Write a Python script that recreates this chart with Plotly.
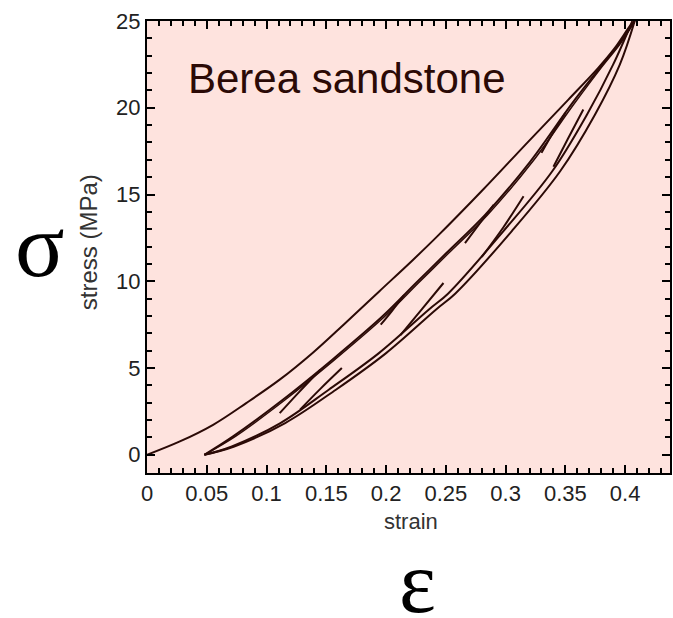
import plotly.graph_objects as go

# ---- data ----
load_strain = [0, 0.0275, 0.0553, 0.083, 0.111, 0.139, 0.166, 0.194, 0.222, 0.243, 0.280, 0.319, 0.3525, 0.3775, 0.3914, 0.405, 0.408]
load_stress = [0, 0.77, 1.73, 2.98, 4.33, 5.9, 7.6, 9.4, 11.2, 12.6, 15.2, 18.05, 20.47, 22.3, 23.45, 24.8, 25]

reload_strain = [0.048, 0.072, 0.1136, 0.155, 0.197, 0.225, 0.250, 0.283, 0.3206, 0.355, 0.380, 0.395, 0.408]
reload_stress = [0, 1.06, 3.17, 5.48, 7.98, 9.9, 11.6, 13.84, 16.9, 20.2, 22.4, 23.7, 25]
reload2_strain = [0.048, 0.074, 0.1156, 0.157, 0.199, 0.227, 0.252, 0.285, 0.3226, 0.357, 0.381, 0.396, 0.408]

unload_stress = [25, 22.5, 19.6, 16.34, 12.88, 9.3, 8.36, 5.86, 3.75, 1.83, 0.48, 0]
unload1_strain = [0.408, 0.3956, 0.3747, 0.3456, 0.305, 0.258, 0.2416, 0.200, 0.158, 0.1156, 0.073, 0.048]
unload2_strain = [0.406, 0.390, 0.368, 0.339, 0.298, 0.252, 0.2356, 0.194, 0.152, 0.1116, 0.071, 0.048]

# short reload branches ending at peaks 5, 10, 15, 20 MPa
seg_strain = [[0.128, 0.145, 0.163], [0.212, 0.230, 0.248], [0.280, 0.298, 0.315], [0.340, 0.352, 0.365]]
seg_stress = [[2.6, 3.8, 5.0], [6.9, 8.4, 9.9], [11.4, 13.1, 14.9], [16.6, 18.2, 19.9]]

# short unload stubs merging into the reload band
stub_strain = [[0.111, 0.127, 0.145], [0.1955, 0.205, 0.215], [0.266, 0.278, 0.290], [0.330, 0.340, 0.350]]
stub_stress = [[2.4, 3.6, 4.9], [7.5, 8.3, 9.2], [12.2, 13.3, 14.4], [17.4, 18.6, 19.7]]

x_tickvals = [0, 0.05, 0.1, 0.15, 0.2, 0.25, 0.3, 0.35, 0.4]
x_ticktext = ["0", "0.05", "0.1", "0.15", "0.2", "0.25", "0.3", "0.35", "0.4"]
y_tickvals = [0, 5, 10, 15, 20, 25]
y_ticktext = ["0", "5", "10", "15", "20", "25"]

LINE = "#2b0a06"
fig = go.Figure()

def add(xs, ys, w=2):
    fig.add_trace(go.Scatter(x=xs, y=ys, mode="lines", line=dict(color=LINE, width=w, shape="spline", smoothing=1.0),
                             showlegend=False, hoverinfo="skip"))

add(load_strain, load_stress)
add(reload_strain, reload_stress)
add(reload2_strain, reload_stress, 1.5)
add(unload1_strain, unload_stress)
add(unload2_strain, unload_stress)
for xs, ys in zip(seg_strain, seg_stress):
    add(xs, ys)
for xs, ys in zip(stub_strain, stub_stress):
    add(xs, ys)

tickfont = dict(family="Liberation Sans, Arial, sans-serif", size=22, color="#222222")
fig.update_xaxes(range=[0, 0.4375], tickmode="array", tickvals=x_tickvals, ticktext=x_ticktext,
                 ticks="inside", ticklen=8, tickwidth=2, tickcolor="black",
                 showline=True, linecolor="black", linewidth=2, mirror="ticks",
                 showgrid=False, zeroline=False, tickfont=tickfont,
                 minor=dict(tickmode="linear", tick0=0, dtick=0.01, ticks="inside", ticklen=5, tickwidth=1.5, tickcolor="black", showgrid=False))
fig.update_yaxes(range=[-1.05, 25], tickmode="array", tickvals=y_tickvals, ticktext=y_ticktext,
                 ticks="inside", ticklen=8, tickwidth=2, tickcolor="black",
                 showline=True, linecolor="black", linewidth=2, mirror="ticks",
                 showgrid=False, zeroline=False, tickfont=tickfont,
                 minor=dict(tickmode="linear", tick0=0, dtick=1, ticks="inside", ticklen=5, tickwidth=1.5, tickcolor="black", showgrid=False))

sans = "Liberation Sans, Arial, sans-serif"
serif = "Liberation Serif, Times New Roman, serif"
fig.add_annotation(x=0.033, y=21.7, xref="x", yref="y", text="Berea sandstone", showarrow=False,
                   xanchor="left", yanchor="middle", font=dict(family=sans, size=42, color="#2b0a06"))
fig.add_annotation(x=(412 - 147) / 525, y=(473 - 521) / 452, xref="paper", yref="paper", text="strain",
                   showarrow=False, xanchor="center", yanchor="middle", font=dict(family=sans, size=22, color="#333333"))
fig.add_annotation(x=(88 - 147) / 525, y=(473 - 242) / 452, xref="paper", yref="paper", text="stress (MPa)",
                   textangle=-90, showarrow=False, xanchor="center", yanchor="middle",
                   font=dict(family=sans, size=24, color="#333333"))
fig.add_annotation(x=(40 - 147) / 525, y=(473 - 245) / 452, xref="paper", yref="paper", text="σ",
                   showarrow=False, xanchor="center", yanchor="middle", font=dict(family=serif, size=92, color="black"))
fig.add_annotation(x=(419 - 147) / 525, y=(473 - 582) / 452, xref="paper", yref="paper", text="ε",
                   showarrow=False, xanchor="center", yanchor="middle", font=dict(family=serif, size=88, color="black"))

fig.update_layout(width=673, height=618, margin=dict(l=147, r=1, t=21, b=145),
                  paper_bgcolor="white", plot_bgcolor="rgb(254,227,222)")
fig.write_html("out.html", config={"responsive": False, "displayModeBar": False},
               post_script="document.body.style.margin='0';document.body.style.overflow='hidden';")
